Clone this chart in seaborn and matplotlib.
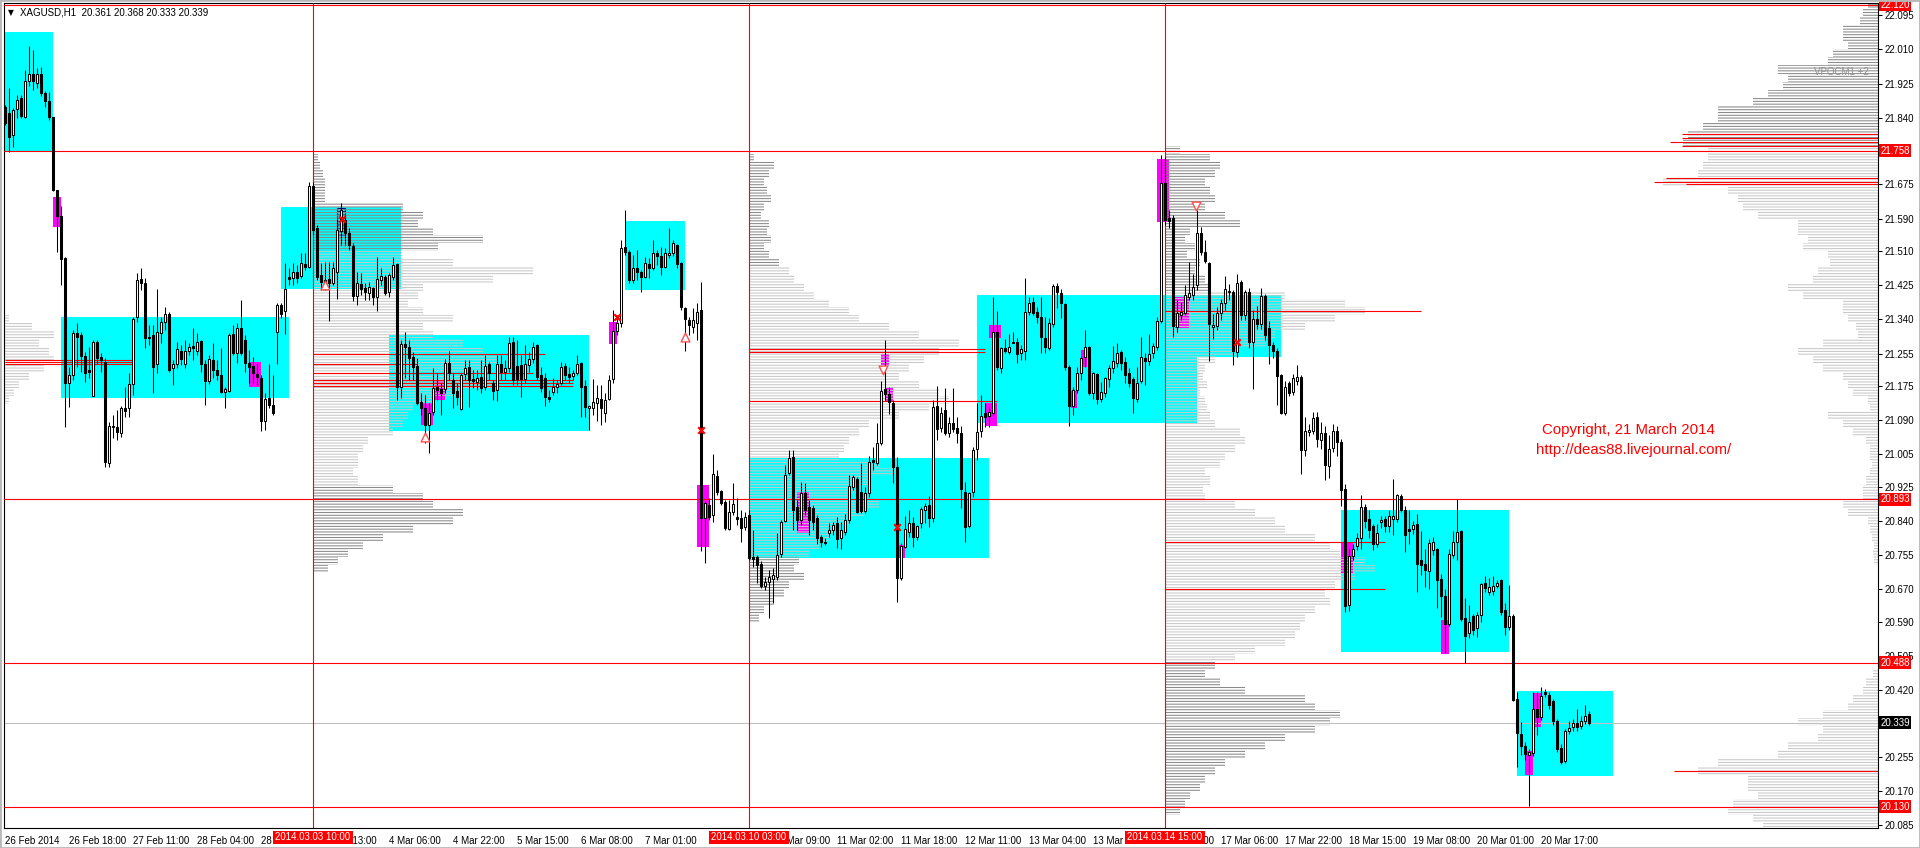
import numpy as np
import matplotlib
matplotlib.use("Agg")
import matplotlib.pyplot as plt
import matplotlib.transforms as mtransforms
from matplotlib.patches import Rectangle
import seaborn as sns

# ---------------- XAGUSD H1 candles ----------------
OPENS = np.array("""
21.867 21.852 21.798 21.861 21.889 21.842 21.931 21.949 21.926 21.949 21.901 21.881 21.842 21.661 21.596 21.492 21.182 21.202 21.306 21.301
21.249 21.214 21.149 21.284 21.247 21.234 20.983 21.075 21.072 21.058 21.120 21.120 21.179 21.346 21.440 21.430 21.296 21.301 21.229 21.306
21.333 21.353 21.219 21.229 21.261 21.229 21.261 21.274 21.261 21.286 21.229 21.187 21.239 21.214 21.202 21.159 21.162 21.303 21.256 21.318
21.289 21.232 21.224 21.204 21.194 21.087 21.145 21.127 21.308 21.375 21.360 21.445 21.442 21.457 21.447 21.477 21.470 21.671 21.566 21.450
21.437 21.440 21.430 21.457 21.559 21.586 21.554 21.522 21.398 21.427 21.418 21.405 21.418 21.395 21.437 21.445 21.408 21.445 21.477 21.172
21.279 21.271 21.247 21.224 21.135 21.120 21.077 21.110 21.172 21.167 21.167 21.232 21.189 21.162 21.117 21.204 21.222 21.192 21.184 21.197
21.172 21.229 21.182 21.164 21.229 21.209 21.219 21.284 21.224 21.227 21.192 21.227 21.241 21.276 21.202 21.194 21.147 21.159 21.172 21.182
21.224 21.204 21.199 21.207 21.232 21.174 21.120 21.120 21.132 21.142 21.107 21.142 21.192 21.311 21.331 21.519 21.507 21.437 21.467 21.457
21.445 21.477 21.467 21.504 21.497 21.470 21.499 21.504 21.524 21.480 21.368 21.338 21.321 21.331 21.363 20.847 20.879 20.854 20.951 20.914
20.886 20.819 20.862 20.849 20.847 20.824 20.854 20.750 20.750 20.733 20.678 20.688 20.695 20.700 20.757 20.839 20.959 20.998 20.874 20.842
20.909 20.874 20.872 20.847 20.799 20.787 20.809 20.817 20.834 20.797 20.812 20.842 20.924 20.944 20.911 20.864 20.909 20.991 20.983 21.033
21.167 21.154 21.132 20.973 20.698 20.775 20.812 20.834 20.799 20.834 20.867 20.879 20.847 21.125 21.070 21.115 21.058 21.082 21.070 21.058
20.911 20.827 20.911 21.018 21.063 21.107 21.100 21.107 21.308 21.219 21.269 21.259 21.284 21.284 21.256 21.261 21.358 21.383 21.358 21.346
21.294 21.269 21.328 21.423 21.405 21.378 21.222 21.125 21.164 21.207 21.247 21.271 21.157 21.204 21.142 21.157 21.192 21.219 21.232 21.259
21.234 21.207 21.192 21.142 21.187 21.244 21.237 21.256 21.271 21.336 21.678 21.591 21.591 21.321 21.351 21.356 21.395 21.400 21.425 21.554
21.507 21.480 21.321 21.323 21.356 21.380 21.410 21.408 21.259 21.432 21.351 21.408 21.284 21.341 21.328 21.398 21.318 21.276 21.261 21.202
21.107 21.182 21.159 21.187 21.197 21.016 21.060 21.063 21.097 21.040 21.058 20.976 21.021 21.063 21.035 20.919 20.631 20.752 20.777 20.797
20.874 20.844 20.827 20.782 20.837 20.844 20.827 20.844 20.844 20.901 20.867 20.819 20.819 20.832 20.743 20.733 20.715 20.767 20.770 20.695
20.653 20.584 20.755 20.787 20.814 20.599 20.561 20.604 20.574 20.606 20.685 20.663 20.666 20.678 20.693 20.619 20.576 20.604 20.398 20.311
20.281 20.259 20.264 20.373 20.353 20.415 20.408 20.393 20.343 20.276 20.245 20.318 20.328 20.338 20.331 20.343 20.361
""".split(), float)

HIGHS = np.array("""
21.872 21.914 21.864 21.897 21.897 21.959 22.018 22.008 21.964 21.966 21.906 21.904 21.842 21.661 21.621 21.494 21.222 21.313 21.331 21.308
21.259 21.271 21.289 21.289 21.256 21.244 21.085 21.102 21.115 21.125 21.172 21.207 21.346 21.455 21.467 21.442 21.326 21.326 21.415 21.346
21.370 21.358 21.239 21.284 21.276 21.289 21.281 21.318 21.306 21.289 21.239 21.251 21.281 21.239 21.269 21.172 21.306 21.326 21.331 21.388
21.301 21.264 21.247 21.232 21.202 21.157 21.229 21.202 21.380 21.380 21.480 21.467 21.480 21.475 21.504 21.504 21.681 21.681 21.574 21.480
21.482 21.482 21.482 21.589 21.628 21.599 21.566 21.529 21.457 21.455 21.430 21.432 21.420 21.494 21.467 21.450 21.455 21.494 21.480 21.289
21.308 21.289 21.259 21.244 21.157 21.152 21.132 21.219 21.207 21.182 21.241 21.261 21.207 21.182 21.207 21.239 21.239 21.214 21.214 21.239
21.251 21.234 21.189 21.251 21.251 21.239 21.296 21.296 21.289 21.251 21.276 21.259 21.284 21.279 21.222 21.207 21.164 21.194 21.189 21.234
21.232 21.222 21.214 21.251 21.234 21.189 21.127 21.192 21.177 21.177 21.157 21.202 21.363 21.351 21.537 21.611 21.512 21.499 21.512 21.462
21.494 21.492 21.537 21.512 21.519 21.517 21.566 21.537 21.527 21.482 21.370 21.346 21.368 21.380 21.432 20.889 20.896 21.006 20.966 20.916
20.891 20.891 20.934 20.896 20.867 20.862 20.867 20.817 20.755 20.740 20.700 20.718 20.723 20.809 20.842 20.978 21.016 21.016 20.891 20.936
20.934 20.891 20.879 20.854 20.804 20.797 20.834 20.837 20.849 20.837 20.857 20.954 20.954 20.949 20.983 20.924 21.001 21.023 21.082 21.187
21.289 21.172 21.140 20.998 20.785 20.852 20.867 20.849 20.829 20.874 20.884 20.901 21.140 21.174 21.122 21.169 21.097 21.169 21.097 21.075
20.936 20.911 21.023 21.132 21.152 21.132 21.122 21.395 21.360 21.271 21.291 21.303 21.308 21.294 21.276 21.442 21.395 21.395 21.370 21.395
21.346 21.343 21.427 21.430 21.415 21.380 21.227 21.172 21.222 21.247 21.313 21.274 21.209 21.207 21.184 21.197 21.227 21.274 21.281 21.264
21.247 21.219 21.197 21.222 21.296 21.256 21.303 21.281 21.346 21.748 21.742 21.611 21.599 21.388 21.383 21.425 21.482 21.452 21.611 21.569
21.537 21.482 21.353 21.370 21.390 21.447 21.427 21.413 21.452 21.437 21.413 21.418 21.363 21.373 21.418 21.403 21.336 21.284 21.269 21.204
21.187 21.187 21.204 21.227 21.202 21.097 21.080 21.110 21.110 21.085 21.075 21.053 21.080 21.075 21.043 20.931 20.770 20.782 20.809 20.904
20.881 20.867 20.832 20.832 20.852 20.852 20.867 20.944 20.906 20.906 20.877 20.867 20.839 20.857 20.814 20.770 20.795 20.799 20.772 20.708
20.671 20.770 20.814 20.894 20.817 20.648 20.631 20.609 20.614 20.685 20.703 20.698 20.703 20.693 20.695 20.636 20.680 20.609 20.415 20.341
20.291 20.274 20.415 20.415 20.427 20.422 20.415 20.398 20.348 20.286 20.323 20.343 20.348 20.373 20.356 20.383 20.368
""".split(), float)

LOWS = np.array("""
21.822 21.755 21.767 21.839 21.839 21.839 21.919 21.909 21.914 21.894 21.867 21.834 21.658 21.507 21.425 21.072 21.122 21.189 21.222 21.209
21.184 21.194 21.149 21.229 21.209 20.973 20.973 21.045 21.040 21.048 21.097 21.097 21.152 21.333 21.413 21.269 21.276 21.157 21.207 21.281
21.313 21.209 21.177 21.219 21.227 21.219 21.251 21.239 21.251 21.209 21.127 21.179 21.194 21.189 21.157 21.120 21.159 21.251 21.232 21.251
21.209 21.182 21.182 21.177 21.063 21.065 21.120 21.102 21.229 21.343 21.303 21.425 21.425 21.430 21.442 21.462 21.467 21.549 21.437 21.413
21.413 21.336 21.425 21.390 21.524 21.524 21.512 21.385 21.375 21.400 21.388 21.388 21.375 21.360 21.425 21.400 21.395 21.437 21.140 21.145
21.194 21.189 21.189 21.127 21.102 21.033 21.008 21.102 21.140 21.102 21.157 21.189 21.120 21.127 21.115 21.189 21.122 21.169 21.164 21.157
21.164 21.189 21.140 21.137 21.189 21.189 21.209 21.177 21.177 21.147 21.182 21.209 21.232 21.189 21.159 21.125 21.135 21.152 21.157 21.177
21.189 21.182 21.189 21.202 21.097 21.097 21.065 21.102 21.087 21.077 21.085 21.140 21.182 21.301 21.321 21.499 21.430 21.430 21.437 21.408
21.442 21.442 21.462 21.475 21.450 21.467 21.492 21.497 21.467 21.363 21.261 21.301 21.306 21.289 20.765 20.735 20.842 20.837 20.904 20.879
20.817 20.817 20.854 20.829 20.787 20.817 20.743 20.725 20.685 20.673 20.668 20.599 20.636 20.693 20.750 20.837 20.954 20.817 20.817 20.829
20.854 20.804 20.817 20.782 20.775 20.780 20.799 20.804 20.772 20.770 20.804 20.834 20.916 20.859 20.859 20.859 20.899 20.966 20.978 21.028
21.140 21.105 20.934 20.638 20.693 20.772 20.799 20.775 20.792 20.822 20.834 20.824 20.837 21.040 21.060 21.053 21.048 21.060 21.033 20.872
20.787 20.822 20.899 20.991 21.048 21.072 21.072 21.102 21.214 21.207 21.256 21.254 21.281 21.232 21.239 21.239 21.351 21.351 21.331 21.256
21.256 21.264 21.321 21.368 21.343 21.214 21.075 21.102 21.157 21.189 21.222 21.152 21.142 21.130 21.135 21.147 21.172 21.207 21.222 21.214
21.182 21.172 21.107 21.135 21.182 21.177 21.227 21.244 21.264 21.331 21.574 21.566 21.296 21.308 21.338 21.351 21.388 21.388 21.413 21.499
21.480 21.236 21.291 21.313 21.338 21.363 21.388 21.227 21.247 21.338 21.338 21.269 21.167 21.316 21.316 21.289 21.229 21.244 21.127 21.105
21.102 21.149 21.152 21.177 20.956 21.001 21.050 21.055 21.023 21.018 20.941 20.946 21.011 21.001 20.877 20.614 20.616 20.743 20.767 20.770
20.822 20.797 20.767 20.775 20.822 20.812 20.812 20.804 20.837 20.862 20.762 20.782 20.807 20.663 20.705 20.676 20.671 20.755 20.624 20.601
20.512 20.579 20.748 20.743 20.591 20.487 20.549 20.556 20.551 20.589 20.663 20.656 20.656 20.673 20.606 20.556 20.569 20.393 20.229 20.259
20.246 20.132 20.256 20.308 20.346 20.403 20.373 20.333 20.266 20.236 20.240 20.311 20.318 20.318 20.323 20.336 20.333
""".split(), float)

CLOSES = np.array("""
21.827 21.793 21.859 21.884 21.844 21.931 21.949 21.931 21.949 21.901 21.881 21.842 21.661 21.596 21.490 21.182 21.202 21.306 21.296 21.249
21.207 21.209 21.284 21.244 21.239 20.986 21.075 21.072 21.060 21.120 21.112 21.179 21.341 21.437 21.430 21.294 21.294 21.222 21.308 21.333
21.353 21.214 21.229 21.266 21.241 21.261 21.271 21.269 21.284 21.229 21.187 21.241 21.214 21.202 21.159 21.167 21.301 21.256 21.318 21.256
21.232 21.222 21.207 21.197 21.087 21.142 21.127 21.107 21.375 21.353 21.415 21.440 21.457 21.442 21.480 21.470 21.671 21.561 21.445 21.432
21.425 21.430 21.467 21.561 21.611 21.554 21.524 21.398 21.430 21.415 21.408 21.420 21.395 21.440 21.447 21.405 21.450 21.475 21.172 21.279
21.271 21.244 21.222 21.132 21.120 21.077 21.107 21.169 21.164 21.157 21.232 21.207 21.157 21.147 21.202 21.219 21.189 21.187 21.194 21.169
21.224 21.207 21.162 21.229 21.209 21.219 21.281 21.189 21.192 21.192 21.229 21.241 21.271 21.197 21.169 21.147 21.142 21.172 21.179 21.222
21.202 21.197 21.207 21.229 21.172 21.122 21.125 21.135 21.145 21.120 21.140 21.189 21.311 21.331 21.517 21.507 21.437 21.467 21.457 21.445
21.480 21.467 21.504 21.497 21.470 21.504 21.504 21.529 21.477 21.370 21.341 21.326 21.338 21.358 20.847 20.884 20.849 20.956 20.911 20.884
20.822 20.862 20.881 20.844 20.822 20.849 20.748 20.745 20.730 20.678 20.688 20.700 20.705 20.755 20.837 20.954 20.996 20.867 20.842 20.909
20.867 20.842 20.837 20.797 20.787 20.785 20.817 20.829 20.795 20.817 20.842 20.926 20.949 20.862 20.864 20.909 20.986 20.986 21.033 21.162
21.154 21.135 20.973 20.698 20.777 20.819 20.834 20.799 20.827 20.869 20.877 20.847 21.122 21.068 21.107 21.058 21.082 21.068 21.058 20.919
20.824 20.909 21.016 21.060 21.100 21.097 21.110 21.308 21.222 21.269 21.261 21.271 21.281 21.254 21.266 21.358 21.380 21.356 21.346 21.296
21.271 21.331 21.423 21.408 21.380 21.222 21.125 21.164 21.207 21.244 21.271 21.157 21.207 21.142 21.159 21.194 21.219 21.237 21.256 21.232
21.202 21.182 21.145 21.182 21.247 21.237 21.254 21.274 21.336 21.678 21.586 21.584 21.323 21.356 21.358 21.400 21.405 21.420 21.554 21.507
21.485 21.328 21.326 21.356 21.380 21.415 21.408 21.261 21.430 21.351 21.408 21.284 21.341 21.328 21.398 21.301 21.276 21.261 21.199 21.107
21.172 21.157 21.194 21.197 21.016 21.063 21.065 21.095 21.043 21.058 20.978 21.018 21.063 21.035 20.916 20.628 20.752 20.770 20.797 20.874
20.839 20.817 20.782 20.809 20.842 20.827 20.852 20.852 20.904 20.867 20.804 20.814 20.829 20.733 20.730 20.718 20.785 20.787 20.693 20.653
20.584 20.757 20.787 20.812 20.596 20.554 20.589 20.569 20.606 20.683 20.673 20.676 20.678 20.685 20.614 20.576 20.604 20.395 20.313 20.281
20.261 20.266 20.373 20.353 20.405 20.410 20.383 20.343 20.274 20.241 20.318 20.326 20.338 20.328 20.343 20.356 20.339
""".split(), float)

# ---------------- axes text ----------------
TIME_TICKS = list(range(0, 385, 16))
TIME_LABELS = ["26 Feb 2014", "26 Feb 18:00", "27 Feb 11:00", "28 Feb 04:00", "28 Feb 21:00",
               "3 Mar 13:00", "4 Mar 06:00", "4 Mar 22:00", "5 Mar 15:00", "6 Mar 08:00",
               "7 Mar 01:00", "7 Mar 18:00", "10 Mar 09:00", "11 Mar 02:00", "11 Mar 18:00",
               "12 Mar 11:00", "13 Mar 04:00", "13 Mar 21:00", "14 Mar 14:00", "17 Mar 06:00",
               "17 Mar 22:00", "18 Mar 15:00", "19 Mar 08:00", "20 Mar 01:00", "20 Mar 17:00"]
PRICE_TICKS = [22.095, 22.010, 21.925, 21.840, 21.755, 21.675, 21.590, 21.510, 21.425, 21.340,
               21.255, 21.175, 21.090, 21.005, 20.925, 20.840, 20.755, 20.670, 20.590, 20.505,
               20.420, 20.335, 20.255, 20.170, 20.085]
# scale labels fully hidden under the price flags in the reference
HIDDEN_PRICE_TICKS = [21.755, 20.335]

LEVEL_LINES = [22.120, 21.758, 20.893, 20.488, 20.130]
CURRENT_PRICE = 20.339
SEPARATOR_BARS = [77, 186, 290]
SEPARATOR_LABELS = ["2014.03.03 10:00", "2014.03.10 03:00", "2014.03.14 15:00"]

# rectangles: (bar_from, bar_to, price_top, price_bottom)
CYAN_BOXES = [(0, 12, 22.053, 21.756), (14, 71, 21.346, 21.145), (69, 99, 21.618, 21.415),
              (96, 146, 21.301, 21.063), (155, 170, 21.584, 21.413), (186, 246, 20.996, 20.748),
              (243, 298, 21.400, 21.082), (290, 319, 21.400, 21.246), (334, 376, 20.867, 20.515),
              (378, 402, 20.417, 20.206)]
MAGENTA_BOXES = [(12, 14, 21.643, 21.569), (61, 64, 21.234, 21.172), (104, 107, 21.132, 21.077),
                 (107.5, 110, 21.189, 21.140), (151, 153, 21.333, 21.279), (173, 176, 20.929, 20.775),
                 (198, 201, 20.911, 20.809), (219, 221, 21.254, 21.227), (220, 222, 21.169, 21.135),
                 (223, 225, 20.780, 20.748), (246, 249, 21.326, 21.294), (245, 248, 21.132, 21.075),
                 (266.5, 268, 21.162, 21.120), (269, 270.5, 21.264, 21.222), (288, 291, 21.737, 21.581),
                 (292.5, 296, 21.395, 21.318), (334, 337, 20.787, 20.710), (359, 361, 20.594, 20.509),
                 (380, 382, 20.268, 20.209), (382, 384, 20.412, 20.328)]
NAVY_BOX = (83, 85, 21.616, 21.544)

# short red POC lines: (price, bar_from, bar_to)
SHORT_RED = [(21.239, 0, 32), (21.234, 0, 32), (21.229, 0, 32),
             (21.254, 77, 135), (21.229, 77, 103), (21.207, 77, 132),
             (21.189, 77, 142), (21.182, 77, 142), (21.174, 77, 142),
             (21.266, 186, 245), (21.259, 186, 245), (21.137, 186, 248),
             (21.361, 290, 354), (20.787, 290, 345), (20.671, 290, 345),
             (21.800, 419.25, 468.25), (21.790, 419.25, 468.25), (21.780, 416.25, 468.25),
             (21.770, 419.25, 468.25), (21.690, 415.25, 468.25), (21.680, 412.25, 468.25),
             (21.675, 420.25, 468.25), (20.219, 417.25, 468.25)]

X_MARKS_BAR = [153, 174, 308, 223, 84.25]
X_MARKS_PRICE = [21.345, 21.065, 21.284, 20.824, 21.589]
UP_ARROW_BAR = [80, 105, 170]
UP_ARROW_PRICE = [21.425, 21.048, 21.296]
DOWN_ARROW_BAR = [219.5, 297.75]
DOWN_ARROW_PRICE = [21.214, 21.621]

# ---------------- volume profiles (volume per 0.02 bin, top bin first) ----------------
PROFILE_STEP = 0.02
VOL_TO_BARS = 0.25
P1_TOP = 21.34
P1_VOL = [5, 28, 50, 35, 45, 50, 40, 25, 15, 10, 5]
P2_TOP = 21.74
P2_VOL = [5, 7, 10, 12, 12, 12, 90, 110, 105, 120, 170, 125, 88, 140, 220, 180, 110, 105, 95, 110,
          140, 110, 120, 150, 170, 185, 175, 160, 185, 150, 120, 100, 95, 90, 80, 55, 50, 45, 45, 40,
          45, 80, 110, 120, 150, 140, 100, 70, 50, 35, 25, 15]
P3_TOP = 21.74
P3_VOL = [5, 25, 20, 15, 18, 22, 15, 12, 20, 18, 22, 15, 20, 30, 40, 45, 55, 65, 80, 100,
          110, 140, 170, 210, 190, 175, 160, 150, 170, 190, 200, 180, 150, 120, 110, 100, 95, 90, 130, 150,
          120, 110, 100, 130, 115, 100, 90, 80, 70, 60, 50, 45, 55, 40, 35, 25, 15, 10]
P4_TOP = 21.76
P4_VOL = [15, 45, 55, 50, 40, 45, 50, 40, 60, 75, 25, 20, 30, 22, 35, 30, 40, 45, 120, 180,
          200, 170, 140, 110, 100, 70, 50, 40, 38, 42, 35, 40, 42, 45, 50, 75, 80, 70, 60, 55,
          40, 45, 38, 40, 70, 90, 110, 120, 150, 165, 175, 200, 210, 190, 170, 160, 165, 150, 140, 135,
          130, 120, 90, 70, 50, 40, 55, 80, 140, 150, 175, 165, 150, 120, 100, 80, 60, 50, 40, 35,
          25, 20, 15]
P5_TOP = 22.12
P5_VOL = [10, 15, 18, 35, 35, 30, 45, 50, 100, 90, 95, 110, 125, 160, 160, 175, 190, 195, 170, 170,
          175, 180, 215, 150, 140, 135, 120, 80, 80, 70, 75, 50, 48, 60, 65, 90, 75, 35, 35, 30,
          22, 20, 55, 80, 65, 55, 35, 30, 25, 10, 8, 50, 35, 25, 12, 8, 8, 6, 8, 12,
          15, 15, 35, 30, 10, 8, 6, 4, 5, 4, 0, 0, 0, 0, 0, 0, 0, 0, 0, 0,
          0, 0, 0, 5, 12, 15, 25, 30, 55, 80, 55, 60, 90, 100, 160, 180, 130, 130, 120, 145,
          150, 125, 115]

LIGHT_GRAY = "#c8c8c8"
DARK_GRAY = "#8a8a8a"
RED = "#ff0000"

sns.set_theme(style="white")
plt.rcParams["font.family"] = ["Liberation Sans", "DejaVu Sans"]
plt.rcParams["hatch.linewidth"] = 0.75

fig = plt.figure(figsize=(19.2, 8.48), dpi=100)
fig.patch.set_facecolor("white")
ax = fig.add_axes([4 / 1920, 20 / 848, 1874 / 1920, 825 / 848])
ax.set_facecolor("white")


def draw_profile(top, vols, start, va_hi, va_lo, side=1):
    vols = np.asarray(vols, float)
    levels = top - PROFILE_STEP * np.arange(len(vols))
    widths = vols * VOL_TO_BARS
    inside = (levels <= va_hi) & (levels >= va_lo)
    for mask, col in ((inside, LIGHT_GRAY), (~inside, DARK_GRAY)):
        m = mask & (widths > 0)
        if not m.any():
            continue
        left = start if side > 0 else start - widths[m]
        ax.barh(levels[m], widths[m], height=PROFILE_STEP, left=left,
                facecolor="none", edgecolor=col, hatch="------", linewidth=0, zorder=2)


# background rectangles
for b0, b1, top, bot in CYAN_BOXES:
    ax.add_patch(Rectangle((b0, bot), b1 - b0, top - bot, facecolor="#00ffff", edgecolor="none", zorder=0.5))
for b0, b1, top, bot in MAGENTA_BOXES:
    ax.add_patch(Rectangle((b0, bot), b1 - b0, top - bot, facecolor="#ff00ff", edgecolor="none", zorder=0.8))
b0, b1, top, bot = NAVY_BOX
ax.add_patch(Rectangle((b0, bot), b1 - b0, top - bot, facecolor="none", edgecolor="#000080",
                       hatch="-----", linewidth=0.8, zorder=0.9))

# volume profiles
draw_profile(P1_TOP, P1_VOL, -0.25, 99, 0)
draw_profile(P2_TOP, P2_VOL, 77, 21.51, 20.93)
draw_profile(P3_TOP, P3_VOL, 186, 21.475, 20.755)
draw_profile(P4_TOP, P4_VOL, 290, 21.413, 20.494)
draw_profile(P5_TOP, P5_VOL, 468.25, 21.765, 0, side=-1)

# level lines
ax.axhline(CURRENT_PRICE, color="#c0c0c0", lw=0.8, zorder=2.5)
for p in LEVEL_LINES:
    ax.axhline(p, color=RED, lw=0.8, zorder=3)
for b in SEPARATOR_BARS:
    ax.axvline(b, color=RED, lw=0.8, zorder=3)
for p, b0, b1 in SHORT_RED:
    ax.hlines(p, b0, b1, color=RED, lw=0.8, zorder=3)

# candles
idx = np.arange(len(CLOSES))
body_lo = np.minimum(OPENS, CLOSES)
body_hi = np.maximum(OPENS, CLOSES)
ax.vlines(idx, np.minimum(LOWS, body_lo), np.maximum(HIGHS, body_hi), color="black", lw=0.75, zorder=4)
ax.bar(idx, CLOSES - OPENS, bottom=OPENS, width=0.55,
       color=np.where(CLOSES >= OPENS, "white", "black"), edgecolor="black", linewidth=0.75, zorder=5)

# signal markers
sns.scatterplot(x=X_MARKS_BAR, y=X_MARKS_PRICE, marker="x", color=RED, s=22, linewidth=1.6,
                ax=ax, legend=False, zorder=6)
sns.scatterplot(x=UP_ARROW_BAR, y=UP_ARROW_PRICE, marker="^", color="white", edgecolor="#ff5050",
                s=40, linewidth=1.0, ax=ax, legend=False, zorder=6)
sns.scatterplot(x=DOWN_ARROW_BAR, y=DOWN_ARROW_PRICE, marker="v", color="white", edgecolor="#ff5050",
                s=40, linewidth=1.0, ax=ax, legend=False, zorder=6)

# axes cosmetics
for s in ax.spines.values():
    s.set_visible(True)
    s.set_color("black")
    s.set_linewidth(0.8)
ax.yaxis.tick_right()
ax.set_yticks(PRICE_TICKS)
ax.set_yticklabels(["" if v in HIDDEN_PRICE_TICKS else f"{v:.3f}" for v in PRICE_TICKS])
ax.tick_params(axis="y", direction="out", length=3, width=0.75, pad=2, labelsize=7, colors="black")
ax.set_xticks(TIME_TICKS)
ax.set_xticklabels(TIME_LABELS, ha="left")
ax.tick_params(axis="x", direction="out", length=4, width=0.75, pad=1.5, labelsize=7, colors="black")
ax.set_ylim(20.0776, 22.125)
ax.set_xlim(-0.25, 468.25)
ax.set_xlabel("")
ax.set_ylabel("")

# price flags on the right scale
ytrans = mtransforms.blended_transform_factory(ax.transAxes, ax.transData)
for p in LEVEL_LINES:
    ax.text(1.0012, p, f"{p:.3f}", transform=ytrans, ha="left", va="center", fontsize=7, color="white",
            bbox=dict(boxstyle="square,pad=0.15", fc=RED, ec="none"), clip_on=False, zorder=10)
ax.text(1.0012, CURRENT_PRICE, f"{CURRENT_PRICE:.3f}", transform=ytrans, ha="left", va="center",
        fontsize=7, color="white", bbox=dict(boxstyle="square,pad=0.15", fc="black", ec="none"),
        clip_on=False, zorder=10)

# date flags on the time scale
xtrans = mtransforms.blended_transform_factory(ax.transData, ax.transAxes)
for b, lab in zip(SEPARATOR_BARS, SEPARATOR_LABELS):
    ax.text(b, -0.0115, lab, transform=xtrans, ha="center", va="center", fontsize=7, color="white",
            bbox=dict(boxstyle="square,pad=0.2", fc=RED, ec="none"), clip_on=False, zorder=10)

# header and notes
ax.text(0.0038, 0.989, "\u25bc", transform=ax.transAxes, fontsize=5.5, color="black",
        ha="center", va="center", family=["DejaVu Sans"])
ax.text(0.0085, 0.989, "XAGUSD,H1  20.361 20.368 20.333 20.339", transform=ax.transAxes,
        fontsize=7, color="black", ha="left", va="center")
fig.text(0.959, 0.915, "VPOCM1 +2", fontsize=7, color="#909090", ha="center", va="center")
fig.text(0.848, 0.4929, "Copyright, 21 March 2014", fontsize=10.8, color=RED, ha="center", va="center")
fig.text(0.851, 0.4693, "http://deas88.livejournal.com/", fontsize=10.8, color=RED, ha="center", va="center")

fig.add_artist(Rectangle((0, 0), 1, 1, transform=fig.transFigure, fill=False,
                         edgecolor="#b8b8b8", linewidth=2.0))

fig.savefig("out.png", dpi=100, facecolor="white")
